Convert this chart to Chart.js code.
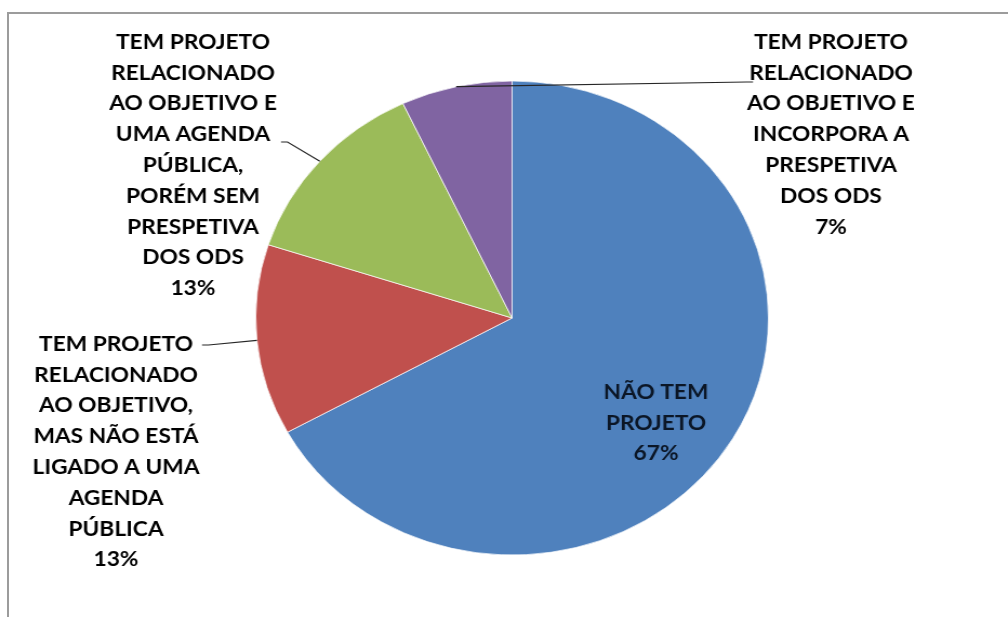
<!DOCTYPE html>
<html>
<head>
<meta charset="utf-8">
<script src="https://cdn.jsdelivr.net/npm/chart.js@4.4.1/dist/chart.umd.min.js"></script>
<style>
  html, body { margin: 0; padding: 0; background: #fff; overflow: hidden; }
  #frame { position: absolute; left: 7px; top: 12px; width: 1100px; height: 700px;
           border-left: 2px solid #9c9c9c; border-top: 2px solid #9c9c9c; }
  #wrap { position: absolute; left: 0; top: 0; width: 932px; height: 617px;
          transform: scaleX(1.0815); transform-origin: 0 0; }
</style>
</head>
<body>
<div id="frame"></div>
<div id="wrap"><canvas id="pie"></canvas></div>
<script>
// categories, clockwise from 12 o'clock
const categories = [
  ["NÃO TEM", "PROJETO"],
  ["TEM PROJETO", "RELACIONADO", "AO OBJETIVO,", "MAS NÃO ESTÁ", "LIGADO A UMA", "AGENDA", "PÚBLICA"],
  ["TEM PROJETO", "RELACIONADO", "AO OBJETIVO E", "UMA AGENDA", "PÚBLICA,", "PORÉM SEM", "PRESPETIVA", "DOS ODS"],
  ["TEM PROJETO", "RELACIONADO", "AO OBJETIVO E", "INCORPORA A", "PRESPETIVA", "DOS ODS"]
];
const shares = [67, 13, 13, 7];
const sliceColors = ["#4F81BD", "#C0504D", "#9BBB59", "#8064A2"];

const SX = 1.0815; // horizontal stretch of the picture
// label block centre x / first line y, and where the leader line leaves the text (picture px)
const labelSpots = [
  { x: 656, y: 392, lead: null },
  { x: 116, y: 344, lead: [202, 345] },
  { x: 193, y: 42,  lead: [281, 142] },
  { x: 831, y: 42,  lead: [753, 82] }
];
const LINE_H = 30.8;

const labelPlugin = {
  id: "sliceLabels",
  afterDatasetsDraw(chart) {
    const ctx = chart.ctx;
    const arcs = chart.getDatasetMeta(0).data;
    ctx.save();
    ctx.font = "bold 21px Lato, 'Open Sans', sans-serif";
    ctx.textAlign = "center";
    ctx.textBaseline = "middle";
    arcs.forEach((arc, i) => {
      const spot = labelSpots[i];
      const lines = categories[i].concat([shares[i] + "%"]);
      const cx = spot.x / SX;
      ctx.fillStyle = spot.lead ? "#000" : "#0b1626";
      lines.forEach((ln, k) => ctx.fillText(ln, cx, spot.y + k * LINE_H));
      if (spot.lead) {
        const mid = (arc.startAngle + arc.endAngle) / 2;
        const ex = arc.x + Math.cos(mid) * arc.outerRadius;
        const ey = arc.y + Math.sin(mid) * arc.outerRadius;
        const lx = spot.lead[0] / SX, ly = spot.lead[1];
        const dir = ex > lx ? 1 : -1;
        ctx.strokeStyle = "#262626";
        ctx.lineWidth = 1.2;
        ctx.beginPath();
        ctx.moveTo(lx, ly);
        ctx.lineTo(lx + dir * 6, ly);
        ctx.lineTo(ex, ey);
        ctx.stroke();
      }
    });
    ctx.restore();
  }
};

new Chart(document.getElementById("pie"), {
  type: "pie",
  data: {
    labels: categories,
    datasets: [{
      data: shares,
      backgroundColor: sliceColors,
      borderColor: "rgba(255,255,255,0.7)",
      borderWidth: 1
    }]
  },
  options: {
    responsive: true,
    maintainAspectRatio: false,
    animation: false,
    layout: { padding: { left: 236, right: 221, top: 80, bottom: 61 } },
    plugins: { legend: { display: false }, tooltip: { enabled: false } }
  },
  plugins: [labelPlugin]
});
</script>
</body>
</html>
